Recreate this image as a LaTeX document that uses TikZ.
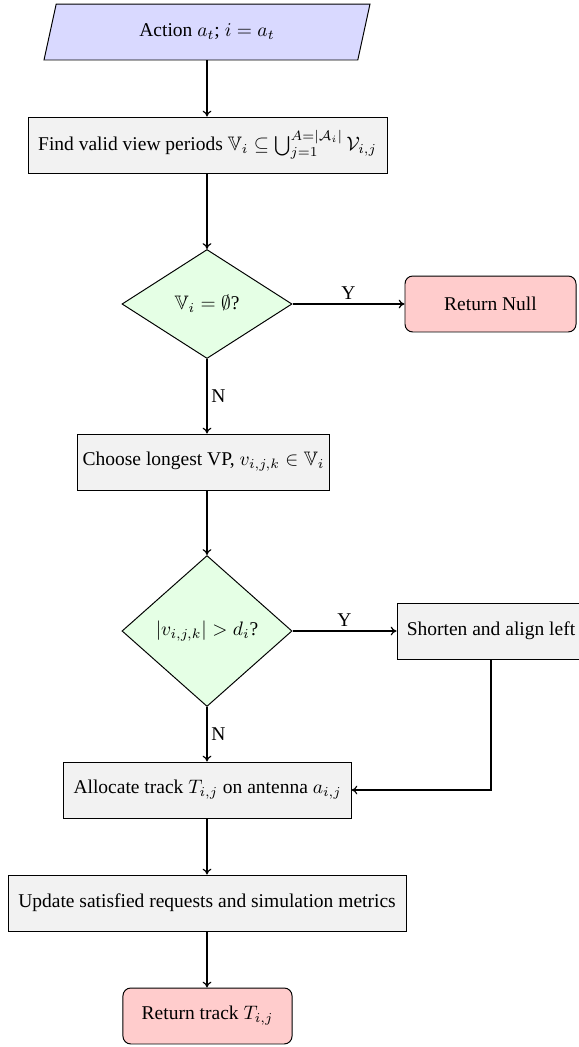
\documentclass[tikz,border=0pt]{standalone}
\usepackage{amsmath,amssymb}
\usepackage[no-math]{fontspec}
\setmainfont{Liberation Serif}
\usetikzlibrary{shapes.geometric,arrows.meta}
\begin{document}
\begin{tikzpicture}[x=0.5128pt,y=-0.5128pt,
  every node/.style={font=\normalsize},
  procbox/.style={draw, fill=gray!10, rectangle, inner sep=0pt, minimum height=28.7pt, line width=0.5pt},
  endbox/.style={draw, fill=red!20, rectangle, rounded corners=4pt, inner sep=0pt, minimum height=28.7pt, line width=0.5pt},
  decide/.style={draw, fill=green!10, diamond, inner sep=0pt, minimum width=87.2pt, line width=0.5pt},
  iobox/.style={draw, fill=blue!15, trapezium, trapezium left angle=71, trapezium right angle=109, trapezium stretches=true, inner sep=0pt, minimum width=167.7pt, minimum height=28.7pt, line width=0.5pt},
  flow/.style={-{To[length=3pt,width=4.5pt]}, line width=0.6pt},
  lbl/.style={font=\normalsize, inner sep=2pt}
]
\useasboundingbox (0,0) rectangle (579,1047);
\node[iobox] (act) at (207,32) {Action $a_t$; $i = a_t$};
\node[procbox, minimum width=184.1pt] (find) at (207.5,145) {Find valid view periods $\mathbb{V}_i \subseteq \bigcup_{j=1}^{A=|\mathcal{A}_i|} \mathcal{V}_{i,j}$};
\node[decide, minimum height=55.9pt] (d1) at (207,304) {$\mathbb{V}_i = \emptyset$?};
\node[endbox, minimum width=87.7pt] (null) at (490.5,304) {Return Null};
\node[procbox, minimum width=129.7pt] (choose) at (203.5,462) {Choose longest VP, $v_{i,j,k} \in \mathbb{V}_i$};
\node[decide, minimum height=77.4pt] (d2) at (207,631) {$|v_{i,j,k}| > d_i$?};
\node[procbox, minimum width=96.4pt] (short) at (491,631) {Shorten and align left};
\node[procbox, minimum width=147.2pt] (alloc) at (207.5,790) {Allocate track $T_{i,j}$ on antenna $a_{i,j}$};
\node[procbox, minimum width=204.1pt] (update) at (207,903) {Update satisfied requests and simulation metrics};
\node[endbox, minimum width=86.7pt] (ret) at (207.5,1016) {Return track $T_{i,j}$};

\draw[flow] (act.south) -- (act.south |- find.north);
\draw[flow] (d1.north |- find.south) -- (d1.north);
\draw[flow] (d1.east) -- node[lbl, above] {Y} (null.west);
\draw[flow] (d1.south) -- node[lbl, right] {N} (d1.south |- choose.north);
\draw[flow] (d2.north |- choose.south) -- (d2.north);
\draw[flow] (d2.east) -- node[lbl, above] {Y} (short.west);
\draw[flow] (d2.south) -- node[lbl, right] {N} (d2.south |- alloc.north);
\draw[flow] (short.south) |- (alloc.east);
\draw[flow] (d2.south |- alloc.south) -- (d2.south |- update.north);
\draw[flow] (d2.south |- update.south) -- (d2.south |- ret.north);
\end{tikzpicture}
\end{document}
